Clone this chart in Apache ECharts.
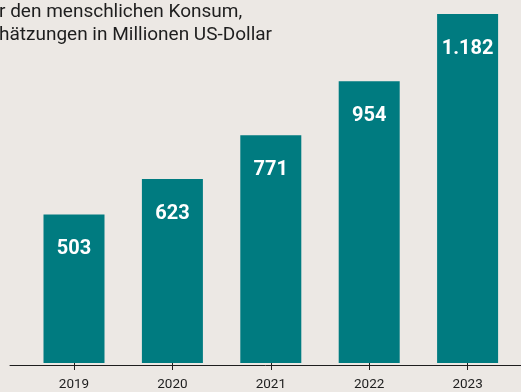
<!DOCTYPE html>
<html>
<head>
<meta charset="utf-8">
<script src="https://cdn.jsdelivr.net/npm/echarts@6/dist/echarts.min.js"></script>
<style>
  html, body { margin: 0; padding: 0; background: #ece8e4; }
  #chart { width: 521px; height: 392px; }
</style>
</head>
<body>
<div id="chart"></div>
<script>
// Jahre und Werte (Millionen US-Dollar)
const years = ['2019', '2020', '2021', '2022', '2023'];
const values = [503, 623, 771, 954, 1182];
const valueLabels = ['503', '623', '771', '954', '1.182'];
const titleLines = ['r den menschlichen Konsum,', 'hätzungen in Millionen US-Dollar'];

const teal = '#007b80';
const ink = '#1e1e1e';
const font = 'Roboto';

const chart = echarts.init(document.getElementById('chart'));
chart.setOption({
  backgroundColor: '#ece8e4',
  animation: false,
  title: {
    text: titleLines.join('\n'),
    left: -1,
    top: 1,
    padding: 0,
    textStyle: { fontFamily: font, fontSize: 19, fontWeight: 'normal', color: ink, lineHeight: 23 }
  },
  grid: [
    { left: 24.8, width: 492, top: 8.6, bottom: 27 },
    { left: 10, right: 0, top: 8.6, bottom: 27 }
  ],
  xAxis: [
    {
      type: 'category',
      gridIndex: 0,
      data: years,
      axisLine: { show: false },
      axisTick: { show: true, alignWithLabel: true, length: 7, lineStyle: { color: ink, width: 1 } },
      axisLabel: { color: ink, fontFamily: font, fontSize: 13.5, margin: 15 }
    },
    {
      type: 'value',
      gridIndex: 1,
      min: 0, max: 1,
      axisLine: { show: true, lineStyle: { color: ink, width: 1 } },
      axisTick: { show: false },
      axisLabel: { show: false },
      splitLine: { show: false }
    }
  ],
  yAxis: [
    { type: 'value', gridIndex: 0, min: 0, max: 1200, show: false, splitLine: { show: false } },
    { type: 'value', gridIndex: 1, min: 0, max: 1, show: false, splitLine: { show: false } }
  ],
  series: [
    {
      type: 'bar',
      xAxisIndex: 0,
      yAxisIndex: 0,
      data: values,
      barWidth: 61,
      itemStyle: { color: teal },
      label: {
        show: true,
        position: 'insideTop',
        distance: 25,
        color: '#ffffff',
        fontFamily: font,
        fontWeight: 'bold',
        fontSize: 20,
        formatter: p => valueLabels[p.dataIndex]
      },
      z: 1
    }
  ]
});
</script>
</body>
</html>
